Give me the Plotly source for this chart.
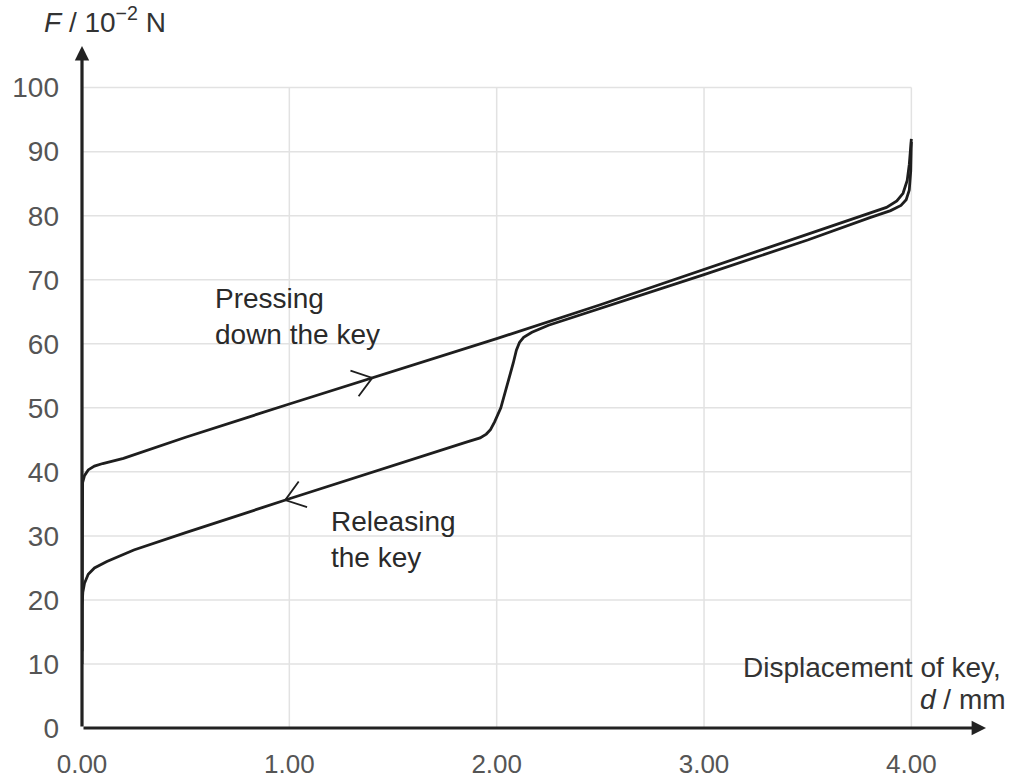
import numpy as np
import plotly.graph_objects as go

# ---------------- data ----------------
press_x = [0, 0, 0.003, 0.012, 0.03, 0.06, 0.1, 0.2, 0.5, 1.0, 1.5, 2.0, 2.5, 3.0,
           3.5, 3.8, 3.88, 3.93, 3.96, 3.98, 3.99, 4.0]
press_y = [10, 36.5, 38.3, 39.4, 40.3, 40.9, 41.3, 42.1, 45.4, 50.6, 55.7, 60.8, 66.1, 71.6,
           77.0, 80.3, 81.3, 82.3, 83.5, 85.5, 88.0, 92.0]

release_x = [4.0, 3.997, 3.99, 3.975, 3.95, 3.9, 3.8, 3.5, 3.0, 2.5, 2.25, 2.17, 2.13, 2.11,
             2.095, 2.08, 2.05, 2.02, 1.99, 1.97, 1.95, 1.92, 1.85, 1.5, 1.0, 0.5, 0.25,
             0.12, 0.06, 0.03, 0.012, 0.004, 0, 0]
release_y = [91.5, 87.0, 84.0, 82.5, 81.6, 80.8, 79.7, 76.2, 70.8, 65.6, 62.9, 61.8, 61.0, 60.2,
             59.0, 57.0, 53.5, 50.0, 47.8, 46.6, 45.9, 45.3, 44.6, 41.0, 35.8, 30.5, 27.8,
             26.0, 25.0, 24.0, 22.6, 21.2, 19.0, 12.0]

x_ticks = [0, 1, 2, 3, 4]
x_tick_labels = ["0.00", "1.00", "2.00", "3.00", "4.00"]
y_ticks = [0, 10, 20, 30, 40, 50, 60, 70, 80, 90, 100]
y_tick_labels = [str(v) for v in y_ticks]

press_arrow_x = 1.40
release_arrow_x = 0.98

# ---------------- layout geometry ----------------
W, H = 1013, 783
ML, MR, MT, MB = 82, 27, 46, 55
X_MAX, Y_MAX = 4.36, 106.5
PX = (W - ML - MR) / X_MAX
PY = (H - MT - MB) / Y_MAX

LINE = "#1e1e1e"
FONT = "Liberation Sans, Arial, sans-serif"
FS = 28


def chevron(xs, ys, x_tip, direction, arm_px=23, half_angle=36):
    xs = np.asarray(xs, float)
    ys = np.asarray(ys, float)
    m = (xs > x_tip - 0.6) & (xs < x_tip + 0.6)
    xs_s, ys_s = xs[m], ys[m]
    o = np.argsort(xs_s)
    xs_s, ys_s = xs_s[o], ys_s[o]
    y_tip = np.interp(x_tip, xs_s, ys_s)
    h = 0.05
    slope = (np.interp(x_tip + h, xs_s, ys_s) - np.interp(x_tip - h, xs_s, ys_s)) / (2 * h)
    d = np.array([PX, slope * PY]) * direction
    d /= np.linalg.norm(d)
    back = -d
    pts_x, pts_y = [], []
    for s in (1, -1):
        a = np.radians(half_angle) * s
        r = np.array([back[0] * np.cos(a) - back[1] * np.sin(a),
                      back[0] * np.sin(a) + back[1] * np.cos(a)])
        pts_x.append(x_tip + r[0] * arm_px / PX)
        pts_y.append(y_tip + r[1] * arm_px / PY)
    return [pts_x[0], x_tip, pts_x[1]], [pts_y[0], y_tip, pts_y[1]]


fig = go.Figure()

fig.add_trace(go.Scatter(x=press_x, y=press_y, mode="lines",
                         line=dict(color=LINE, width=2.8), cliponaxis=False,
                         hoverinfo="skip"))
fig.add_trace(go.Scatter(x=release_x, y=release_y, mode="lines",
                         line=dict(color=LINE, width=2.8), cliponaxis=False,
                         hoverinfo="skip"))

cx, cy = chevron(press_x, press_y, press_arrow_x, +1)
fig.add_trace(go.Scatter(x=cx, y=cy, mode="lines", line=dict(color=LINE, width=1.8),
                         cliponaxis=False, hoverinfo="skip"))
cx, cy = chevron(release_x, release_y, release_arrow_x, -1)
fig.add_trace(go.Scatter(x=cx, y=cy, mode="lines", line=dict(color=LINE, width=1.8),
                         cliponaxis=False, hoverinfo="skip"))

# grid (box limited to the tick range)
shapes = []
for xv in x_ticks[1:]:
    shapes.append(dict(type="line", xref="x", yref="y", x0=xv, x1=xv, y0=0, y1=y_ticks[-1],
                       line=dict(color="#e2e2e2", width=1.5), layer="below"))
for yv in y_ticks[1:]:
    shapes.append(dict(type="line", xref="x", yref="y", x0=0, x1=x_ticks[-1], y0=yv, y1=yv,
                       line=dict(color="#e2e2e2", width=1.5), layer="below"))

annotations = [
    # axes with arrowheads
    dict(x=X_MAX, y=0, ax=0, ay=0, xref="x", yref="y", axref="x", ayref="y", text="",
         showarrow=True, arrowhead=2, arrowsize=0.9, arrowwidth=3.2, arrowcolor="#222"),
    dict(x=0, y=Y_MAX, ax=0, ay=0, xref="x", yref="y", axref="x", ayref="y", text="",
         showarrow=True, arrowhead=2, arrowsize=0.9, arrowwidth=3.2, arrowcolor="#222"),
    # axis titles
    dict(x=0, y=Y_MAX, xref="x", yref="y", xanchor="left", yanchor="bottom", xshift=-40,
         yshift=6, showarrow=False, text="<i>F</i> / 10<sup>−2</sup> N",
         font=dict(family=FONT, size=FS, color="#333")),
    dict(x=X_MAX, y=9.4, xref="x", yref="y", xanchor="right", yanchor="middle", xshift=17,
         showarrow=False, text="Displacement of key,",
         font=dict(family=FONT, size=FS, color="#333")),
    dict(x=X_MAX, y=4.4, xref="x", yref="y", xanchor="right", yanchor="middle", xshift=22,
         showarrow=False, text="<i>d</i> / mm",
         font=dict(family=FONT, size=FS, color="#333")),
    # curve labels
    dict(x=0.63, y=64.2, xref="x", yref="y", xanchor="left", yanchor="middle", align="left",
         showarrow=False, text="Pressing<br>down the key",
         font=dict(family=FONT, size=FS, color="#2a2a2a")),
    dict(x=1.19, y=29.4, xref="x", yref="y", xanchor="left", yanchor="middle", align="left",
         showarrow=False, text="Releasing<br>the key",
         font=dict(family=FONT, size=FS, color="#2a2a2a")),
]

fig.update_layout(
    width=W, height=H,
    margin=dict(l=ML, r=MR, t=MT, b=MB, pad=0, autoexpand=False),
    paper_bgcolor="white", plot_bgcolor="white",
    showlegend=False,
    shapes=shapes, annotations=annotations,
    hovermode=False,
    xaxis=dict(range=[0, X_MAX], tickvals=x_ticks, ticktext=x_tick_labels,
               showgrid=False, zeroline=False, showline=False, ticks="",
               ticklabelstandoff=18, automargin=False,
               tickfont=dict(family=FONT, size=26, color="#555"), fixedrange=True),
    yaxis=dict(range=[0, Y_MAX], tickvals=y_ticks, ticktext=y_tick_labels,
               showgrid=False, zeroline=False, showline=False, ticks="",
               ticklabelstandoff=22, automargin=False,
               tickfont=dict(family=FONT, size=FS, color="#555"), fixedrange=True),
)

fig.write_html("out.html", config={"displayModeBar": False},
               post_script="document.body.style.margin='0px';")
